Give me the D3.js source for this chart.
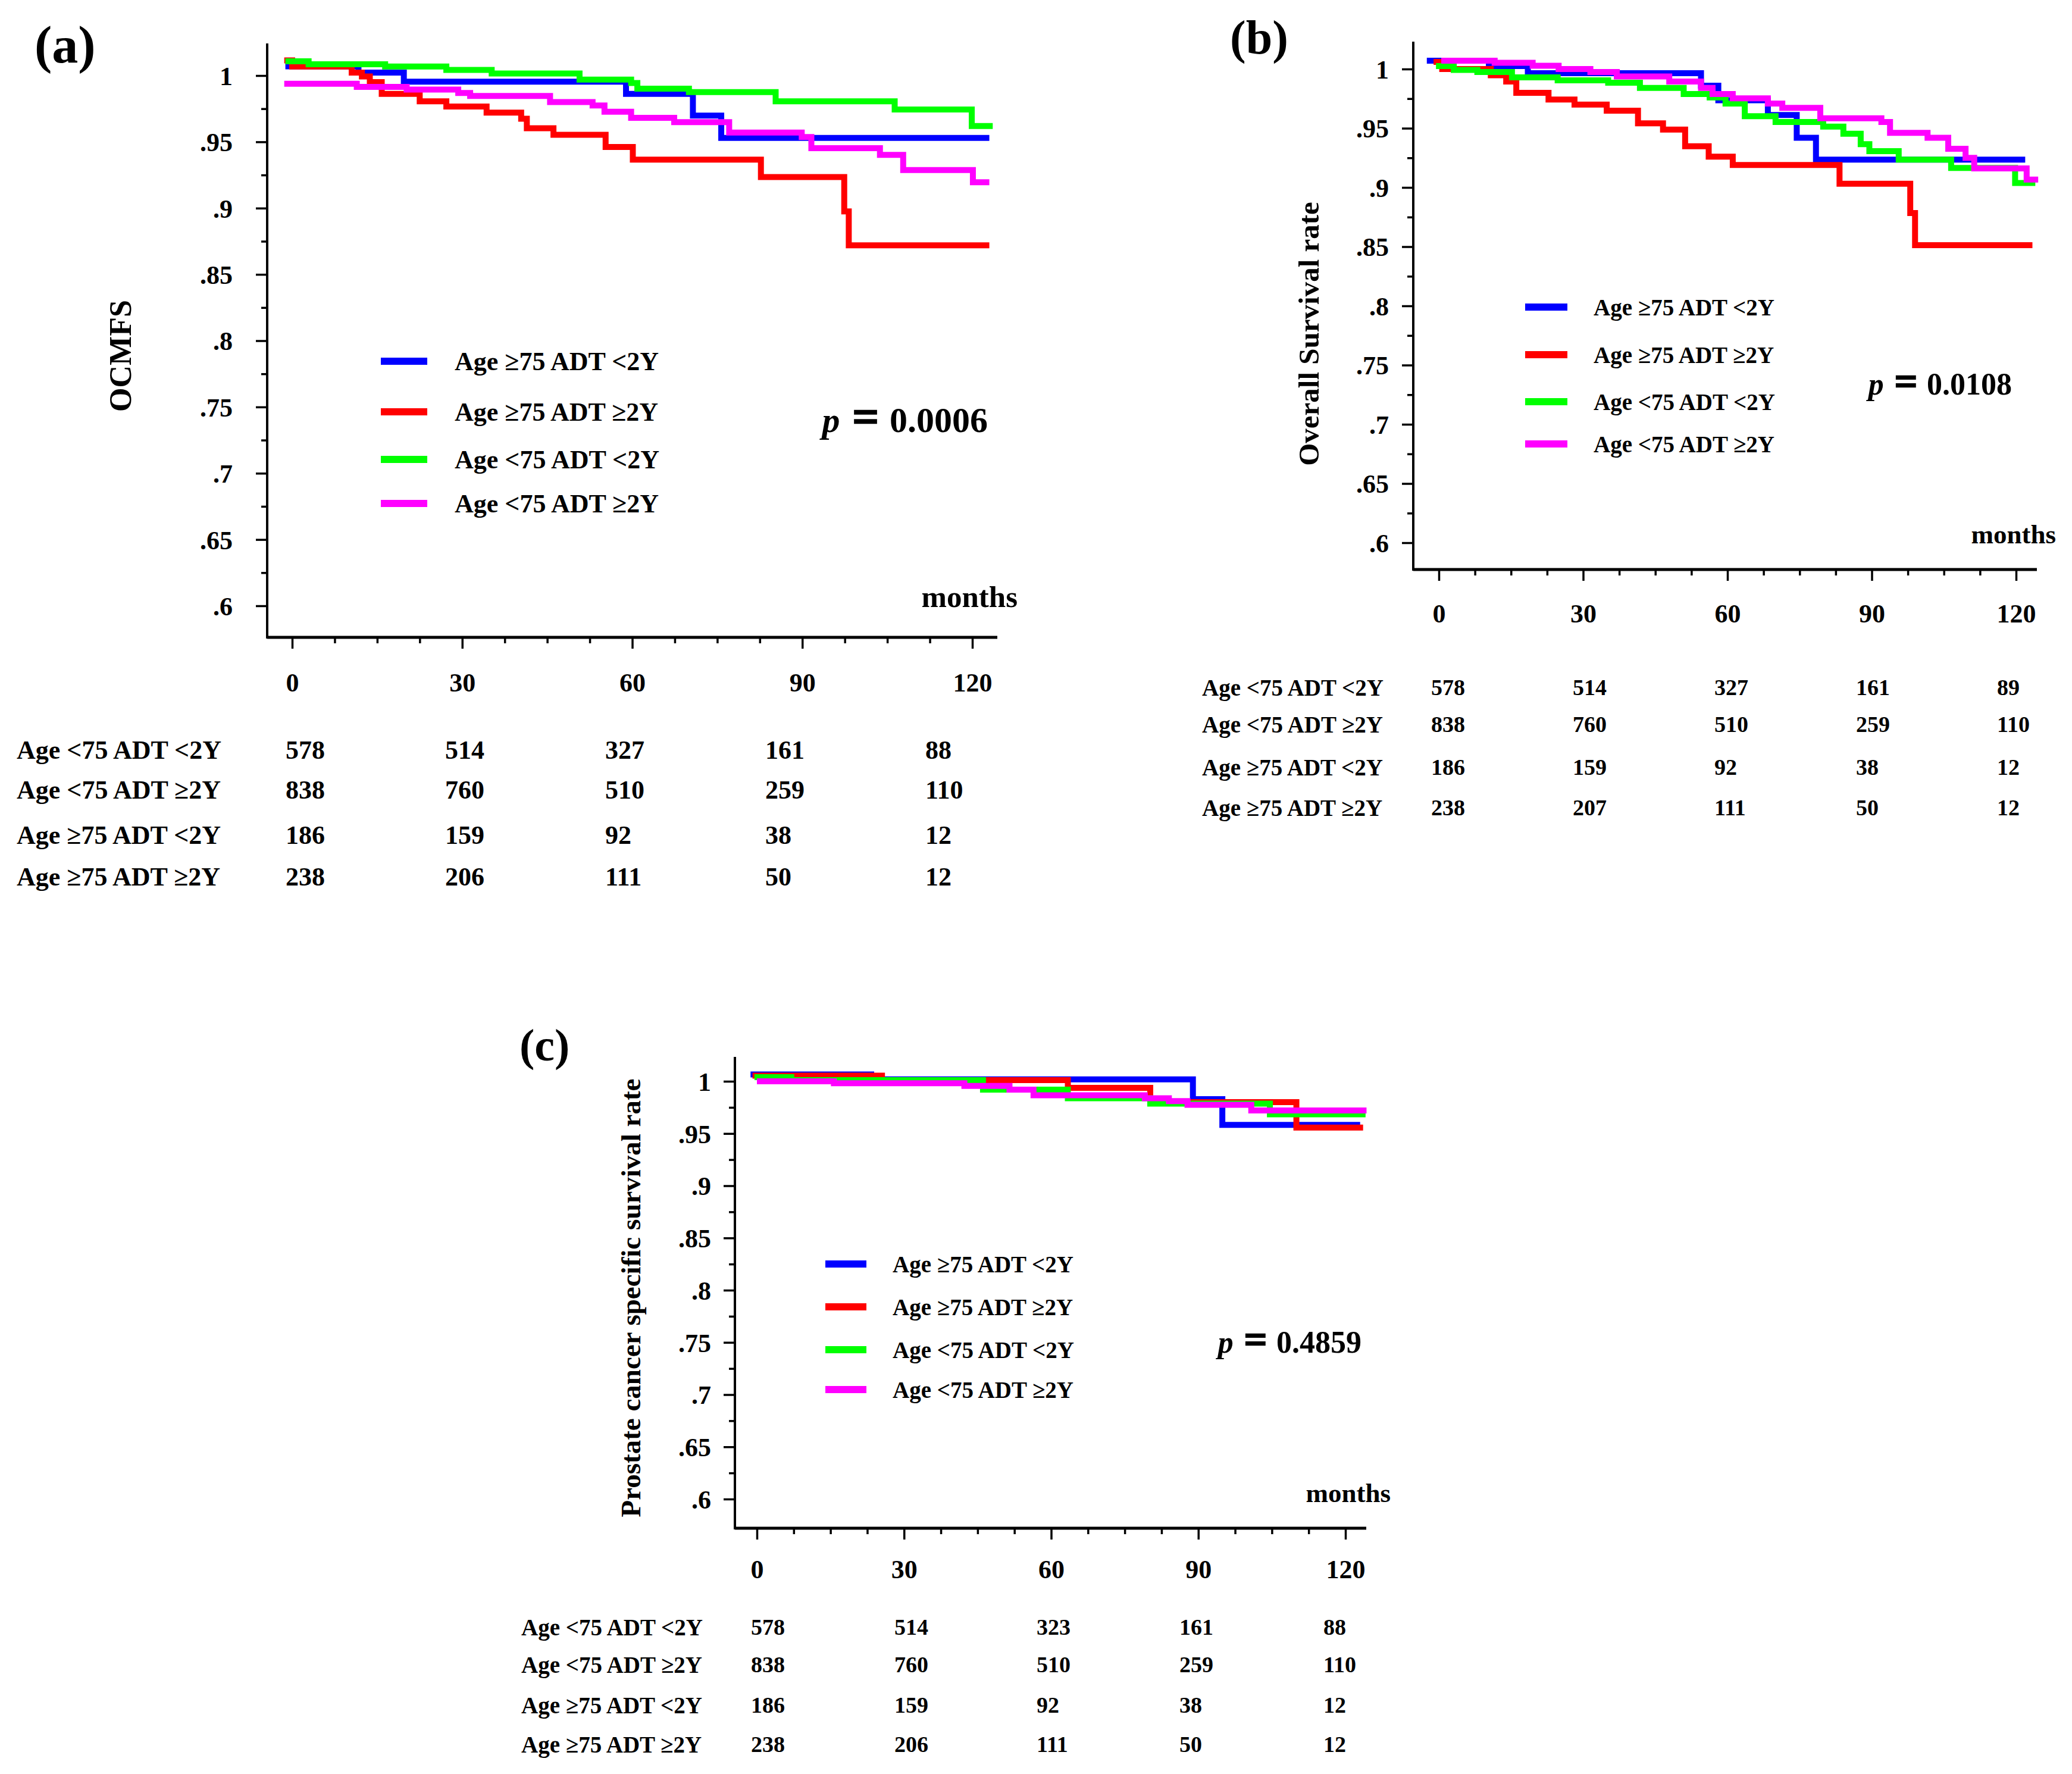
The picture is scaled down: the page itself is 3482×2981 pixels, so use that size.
<!DOCTYPE html>
<html>
<head>
<meta charset="utf-8">
<script src="https://cdn.jsdelivr.net/npm/d3@7"></script>
<style>
  body { margin: 0; background: #fff; }
  text { font-family: "Liberation Serif", "Times New Roman", serif; font-weight: bold; fill: #000; }
</style>
</head>
<body>
<div id="vis"></div>
<script>
//#region data

const xTicks = [0, 30, 60, 90, 120];
const xMinorTicks = [7.5, 15, 22.5, 37.5, 45, 52.5, 67.5, 75, 82.5, 97.5, 105, 112.5];
const yTicks = [0.6, 0.65, 0.7, 0.75, 0.8, 0.85, 0.9, 0.95, 1];
const yMinorTicks = [0.625, 0.675, 0.725, 0.775, 0.825, 0.875, 0.925, 0.975];

// legend order = draw order of the curves
const groups = ["Age \u226575 ADT <2Y", "Age \u226575 ADT \u22652Y", "Age <75 ADT <2Y", "Age <75 ADT \u22652Y"];
const colors = ["#0000ff", "#ff0000", "#00ff00", "#ff00ff"];

// number at risk rows
const riskRows = ["Age <75 ADT <2Y", "Age <75 ADT \u22652Y", "Age \u226575 ADT <2Y", "Age \u226575 ADT \u22652Y"];

const panelTags = ["(a)", "(b)", "(c)"];
const yTitles = ["OCMFS", "Overall Survival rate", "Prostate cancer specific survival rate"];
const pValues = ["0.0006", "0.0108", "0.4859"];

// (a) OCMFS, steps as [month, rate]; last point = end of follow-up
const ocmfsGe75Lt2 = [[-1.2, 1.007], [11.7, 1.0023], [19.7, 0.9954], [58.9, 0.9862], [70.7, 0.9698], [75.7, 0.953], [123, 0.953]];
const ocmfsGe75Ge2 = [[-1.4, 1.0115], [0, 1.0069], [10.5, 1.0023], [12.3, 0.9993], [13.7, 0.9951], [15.8, 0.9862],
  [22.5, 0.9806], [27.2, 0.9767], [34.3, 0.9721], [40.4, 0.9675], [41.4, 0.9603], [46.1, 0.9553], [55.3, 0.9461],
  [60.1, 0.9366], [82.7, 0.9235], [97.4, 0.8975], [98.2, 0.8719], [123, 0.8719]];
const ocmfsLt75Lt2 = [[-1.2, 1.0108], [2.9, 1.0085], [16.4, 1.0069], [27.2, 1.0043], [35.2, 1.0016], [50.7, 0.997],
  [59.8, 0.9944], [60.9, 0.9901], [70.0, 0.9875], [85.3, 0.9806], [106.3, 0.9744], [119.9, 0.9619], [123.6, 0.9619]];
const ocmfsLt75Ge2 = [[-1.4, 0.9938], [11.4, 0.9915], [20.2, 0.9895], [29.3, 0.9869], [31.4, 0.9846], [45.5, 0.98],
  [53.0, 0.9774], [55.1, 0.9727], [59.8, 0.9681], [67.4, 0.9649], [77.1, 0.957], [89.9, 0.9537], [91.6, 0.9452],
  [103.7, 0.9402], [107.8, 0.9287], [120.1, 0.9195], [123, 0.9195]];

// (b) overall survival
const osGe75Lt2 = [[-2.5, 1.007], [10.4, 1.0025], [18.5, 0.9965], [54.5, 0.9859], [58.1, 0.9736], [68.4, 0.9612],
  [74.4, 0.9419], [78.4, 0.9235], [121.9, 0.9235]];
const osGe75Ge2 = [[-1.1, 1.006], [0.7, 1.0], [10.8, 0.9947], [14.0, 0.9894], [16.1, 0.9799], [22.8, 0.9743],
  [28.2, 0.97], [34.9, 0.9648], [41.4, 0.9542], [46.6, 0.9489], [51.2, 0.9348], [56.1, 0.926], [61.1, 0.919],
  [83.3, 0.9031], [98.0, 0.8784], [99.0, 0.8513], [123.4, 0.8513]];
const osLt75Lt2 = [[-0.6, 1.0025], [3.1, 0.9993], [8.0, 0.9975], [15.2, 0.993], [24.7, 0.9905], [35.2, 0.9884],
  [41.8, 0.9841], [50.9, 0.9789], [56.3, 0.976], [59.6, 0.9708], [63.6, 0.9602], [70.0, 0.9553], [79.9, 0.9514],
  [84.1, 0.9454], [87.7, 0.9366], [89.5, 0.9306], [95.6, 0.9235], [106.5, 0.9165], [119.8, 0.9038], [124, 0.9038]];
const osLt75Ge2 = [[0.5, 1.007], [11.6, 1.0053], [19.5, 1.0028], [24.9, 1.0], [31.5, 0.9975], [37.0, 0.9937],
  [47.9, 0.9894], [54.5, 0.9841], [56.9, 0.9789], [61.1, 0.9753], [68.4, 0.9708], [71.4, 0.9672], [79.3, 0.9584],
  [92.0, 0.9553], [93.8, 0.9461], [101.6, 0.9419], [105.9, 0.9327], [109.5, 0.925], [111.3, 0.9161],
  [122.2, 0.9066], [124.6, 0.9066]];

// (c) prostate cancer specific survival
const pcssGe75Lt2 = [[-1.3, 1.0065], [23.3, 1.0018], [88.9, 0.9829], [94.9, 0.9583], [123, 0.9583]];
const pcssGe75Ge2 = [[-0.9, 1.0054], [25.5, 1.0011], [63.4, 0.9938], [80.2, 0.98], [110, 0.9557], [123.6, 0.9557]];
const pcssLt75Lt2 = [[-0.5, 1.004], [7.0, 1.0011], [46.1, 0.992], [63.4, 0.9837], [80.2, 0.9786], [104.6, 0.9684], [124.1, 0.9684]];
const pcssLt75Ge2 = [[0, 1.0], [15.7, 0.9982], [42.3, 0.9956], [51.5, 0.992], [56.4, 0.9866], [79.1, 0.9837],
  [84.0, 0.9811], [87.8, 0.9775], [100.8, 0.9721], [124.3, 0.9721]];

const riskA = [[578, 514, 327, 161, 88], [838, 760, 510, 259, 110], [186, 159, 92, 38, 12], [238, 206, 111, 50, 12]];
const riskB = [[578, 514, 327, 161, 89], [838, 760, 510, 259, 110], [186, 159, 92, 38, 12], [238, 207, 111, 50, 12]];
const riskC = [[578, 514, 323, 161, 88], [838, 760, 510, 259, 110], [186, 159, 92, 38, 12], [238, 206, 111, 50, 12]];

//#endregion

//#region layout

const W = 3482;
const H = 2981;

const PANELS = [
  { curves: [ocmfsGe75Lt2, ocmfsGe75Ge2, ocmfsLt75Lt2, ocmfsLt75Ge2], risk: riskA,
    x0: 491, x120: 1634, y06: 1018, y1: 127, axX: 449, axY: 1071, axTop: 73, axRight: 1676,
    tag: [58, 105, 88], title: [220, 598, 52], ylabRight: 391, xlabY: 1147, tickFont: 44,
    legX: 640, legLen: 78, legY: [607, 692, 772, 846], legFont: 44,
    p: [1660, 726, 60], mon: [1710, 1020, 51],
    rowX: 28, rowY: [1260, 1327, 1403, 1473], colX: [480, 748, 1017, 1286, 1555], rowFont: 44, numFont: 44 },
  { curves: [osGe75Lt2, osGe75Ge2, osLt75Lt2, osLt75Ge2], risk: riskB,
    x0: 2418, x120: 3388, y06: 912, y1: 116, axX: 2375, axY: 957, axTop: 70, axRight: 3423,
    tag: [2067, 90, 80], title: [2216, 561, 49], ylabRight: 2334, xlabY: 1031, tickFont: 44,
    legX: 2563, legLen: 71, legY: [516, 596, 675, 746], legFont: 39,
    p: [3381, 663, 52], mon: [3455, 913, 45],
    rowX: 2020, rowY: [1155, 1217, 1289, 1357], colX: [2405, 2643, 2881, 3119, 3356], rowFont: 39, numFont: 38 },
  { curves: [pcssGe75Lt2, pcssGe75Ge2, pcssLt75Lt2, pcssLt75Ge2], risk: riskC,
    x0: 1272, x120: 2261, y06: 2519, y1: 1817, axX: 1235, axY: 2568, axTop: 1776, axRight: 2296,
    tag: [873, 1782, 76], title: [1076, 2181, 47], ylabRight: 1195, xlabY: 2637, tickFont: 44,
    legX: 1387, legLen: 69, legY: [2124, 2196, 2268, 2335], legFont: 39,
    p: [2288, 2273, 52], mon: [2337, 2524, 45],
    rowX: 876, rowY: [2734, 2797, 2865, 2931], colX: [1262, 1503, 1742, 1982, 2224], rowFont: 39, numFont: 38 }
];

const MAJOR = 19;
const MINOR = 10;

const fmtY = d => d === 1 ? "1" : d3.format(".2~f")(d).replace(/^0/, "");

//#endregion

//#region render

const svg = d3.select("#vis")
  .append("svg")
    .attr("width", W)
    .attr("height", H)
    .style("background", "#fff");

PANELS.forEach((L, i) => {
  const g = svg.append("g").attr("id", "panel-" + i);

  const x = d3.scaleLinear().domain([0, 120]).range([L.x0, L.x120]);
  const y = d3.scaleLinear().domain([0.6, 1]).range([L.y06, L.y1]);

  // axis lines
  g.append("line")
    .attr("x1", L.axX).attr("x2", L.axX)
    .attr("y1", L.axTop).attr("y2", L.axY + 2)
    .attr("stroke", "#000").attr("stroke-width", 4);
  g.append("line")
    .attr("x1", L.axX).attr("x2", L.axRight)
    .attr("y1", L.axY).attr("y2", L.axY)
    .attr("stroke", "#000").attr("stroke-width", 5);

  // y axis
  const yAxis = g.append("g")
    .attr("transform", `translate(${L.axX},0)`)
    .call(d3.axisLeft(y).tickValues(yTicks).tickSize(MAJOR).tickSizeOuter(0)
      .tickPadding(L.axX - L.ylabRight - MAJOR).tickFormat(fmtY))
    .attr("font-size", L.tickFont)
    .attr("font-family", null);
  yAxis.select(".domain").remove();
  yAxis.selectAll("line").attr("stroke-width", 3.5);
  yAxis.selectAll("text").attr("dy", "0.35em");

  const yMinor = g.append("g")
    .attr("transform", `translate(${L.axX},0)`)
    .call(d3.axisLeft(y).tickValues(yMinorTicks).tickSize(MINOR).tickSizeOuter(0).tickFormat(""));
  yMinor.select(".domain").remove();
  yMinor.selectAll("line").attr("stroke-width", 3.5);

  // x axis
  const xAxis = g.append("g")
    .attr("transform", `translate(0,${L.axY})`)
    .call(d3.axisBottom(x).tickValues(xTicks).tickSize(MAJOR).tickSizeOuter(0))
    .attr("font-size", L.tickFont)
    .attr("font-family", null);
  xAxis.select(".domain").remove();
  xAxis.selectAll("line").attr("stroke-width", 3.5);
  xAxis.selectAll("text").attr("y", L.xlabY - L.axY).attr("dy", "0.35em");

  const xMinor = g.append("g")
    .attr("transform", `translate(0,${L.axY})`)
    .call(d3.axisBottom(x).tickValues(xMinorTicks).tickSize(MINOR).tickSizeOuter(0).tickFormat(""));
  xMinor.select(".domain").remove();
  xMinor.selectAll("line").attr("stroke-width", 3.5);

  // curves
  const line = d3.line()
    .x(d => x(d[0]))
    .y(d => y(d[1]))
    .curve(d3.curveStepAfter);

  g.selectAll("path.km")
    .data(L.curves)
    .enter()
    .append("path")
      .attr("class", "km")
      .attr("d", line)
      .attr("fill", "none")
      .attr("stroke", (d, k) => colors[k])
      .attr("stroke-width", 10)
      .attr("stroke-linejoin", "miter");

  // legend
  const leg = g.selectAll("g.leg")
    .data(groups)
    .enter()
    .append("g")
      .attr("class", "leg")
      .attr("transform", (d, k) => `translate(${L.legX},${L.legY[k]})`);
  leg.append("line")
    .attr("x1", 0).attr("x2", L.legLen)
    .attr("stroke", (d, k) => colors[k])
    .attr("stroke-width", 12);
  leg.append("text")
    .attr("x", L.legLen + 46 - (i ? 2 : 0))
    .attr("dy", "0.35em")
    .attr("font-size", L.legFont)
    .text(d => d);

  // p value
  const p = g.append("text")
    .attr("x", L.p[0]).attr("y", L.p[1])
    .attr("text-anchor", "end")
    .attr("font-size", L.p[2]);
  p.append("tspan").attr("font-style", "italic").text("p");
  p.append("tspan")
    .attr("font-size", L.p[2] * 1.3)
    .attr("dx", L.p[2] * 0.35)
    .attr("stroke", "#000")
    .attr("stroke-width", 2.5)
    .text("=");
  p.append("tspan").attr("dx", L.p[2] * 0.3).text(pValues[i]);

  // months
  g.append("text")
    .attr("x", L.mon[0]).attr("y", L.mon[1])
    .attr("text-anchor", "end")
    .attr("font-size", L.mon[2])
    .text("months");

  // y title
  g.append("text")
    .attr("transform", `translate(${L.title[0]},${L.title[1]}) rotate(-90)`)
    .attr("text-anchor", "middle")
    .attr("font-size", L.title[2])
    .text(yTitles[i]);

  // panel tag
  g.append("text")
    .attr("x", L.tag[0]).attr("y", L.tag[1])
    .attr("font-size", L.tag[2])
    .text(panelTags[i]);

  // number at risk table
  const rows = g.selectAll("g.row")
    .data(L.risk)
    .enter()
    .append("g")
      .attr("class", "row")
      .attr("transform", (d, r) => `translate(0,${L.rowY[r]})`);
  rows.append("text")
    .attr("x", L.rowX)
    .attr("dy", "0.35em")
    .attr("font-size", L.rowFont)
    .text((d, r) => riskRows[r]);
  rows.selectAll("text.n")
    .data(d => d)
    .enter()
    .append("text")
      .attr("class", "n")
      .attr("x", (d, c) => L.colX[c])
      .attr("dy", "0.35em")
      .attr("font-size", L.numFont)
      .text(d => d);
});

//#endregion
</script>
</body>
</html>
